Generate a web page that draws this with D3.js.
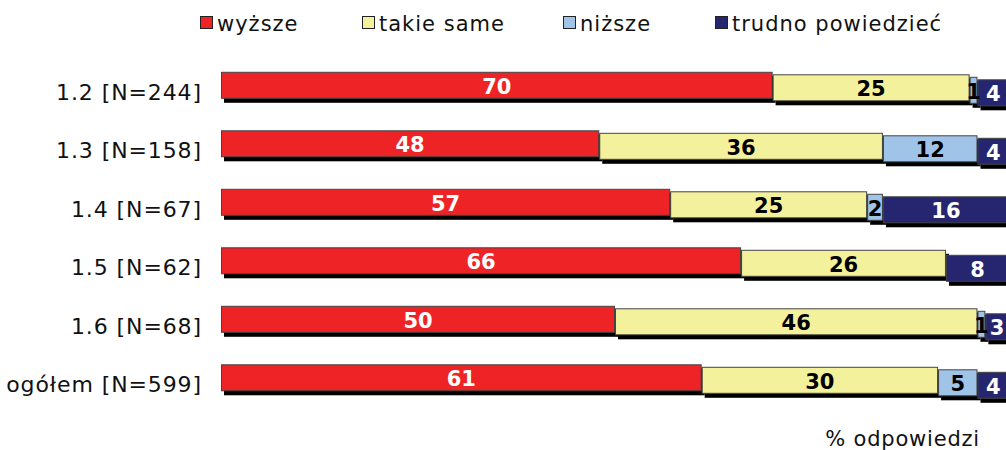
<!DOCTYPE html>
<html><head><meta charset="utf-8">
<script src="https://cdn.jsdelivr.net/npm/d3@7"></script>
<style>body{margin:0;background:#fff}svg{display:block}text{font-family:"DejaVu Sans",Verdana,sans-serif}</style>
</head><body>
<svg id="c" width="1006" height="450"></svg>
<script>
const categories = ["1.2 [N=244]","1.3 [N=158]","1.4 [N=67]","1.5 [N=62]","1.6 [N=68]","ogółem [N=599]"];
const seriesNames = ["wyższe","takie same","niższe","trudno powiedzieć"];
const wyzsze = [70,48,57,66,50,61];
const takieSame = [25,36,25,26,46,30];
const nizsze = [1,12,2,0,1,5];
const trudno = [4,4,16,8,3,4];
const colors = ["#ee2326","#f4f19c","#9fc4e8","#262670"];
const labelColors = ["#fff","#000","#000","#fff"];

const series = [wyzsze, takieSame, nizsze, trudno];
const rows = categories.map((c,i)=>{const o={cat:c}; seriesNames.forEach((s,j)=>o[s]=series[j][i]); return o;});
const stack = d3.stack().keys(seriesNames)(rows);

const svg = d3.select("#c");
const x = d3.scaleLinear().domain([0,100]).range([221,1009]);
const y = d3.scaleBand().domain(categories).range([56,407]).paddingInner(0.54).paddingOuter(0.27);
const bh = 27, step = 2.5;

// category labels
svg.append("g").selectAll("text").data(categories).join("text")
  .attr("x",202).attr("y",d=>y(d)+bh/2+7).attr("dy","0.35em").attr("text-anchor","end")
  .attr("font-size",22).attr("letter-spacing",0.9).attr("fill","#111").text(d=>d);

const g = svg.append("g");
rows.forEach((r,i)=>{
  stack.forEach((s,j)=>{
    const d = s[i]; const w = x(d[1])-x(d[0]);
    if (w<=0) return;
    const yy = y(r.cat)+j*step;
    g.append("rect").attr("x",x(d[0])+3).attr("y",yy+4).attr("width",w).attr("height",bh).attr("fill","#000");
    g.append("rect").attr("x",x(d[0])+0.5).attr("y",yy+0.5).attr("width",w-1).attr("height",bh-1)
      .attr("fill",colors[j]).attr("stroke","#444").attr("stroke-width",1);
  });
});
rows.forEach((r,i)=>{
  stack.forEach((s,j)=>{
    const d = s[i]; const v = d[1]-d[0];
    if (v<=0) return;
    const yy = y(r.cat)+j*step;
    g.append("text").attr("x",(x(d[0])+x(d[1]))/2).attr("y",yy+bh/2+1).attr("dy","0.35em")
      .attr("text-anchor","middle").attr("font-size",21).attr("font-weight","bold")
      .attr("fill",labelColors[j]).text(v);
  });
});

// legend
const legX = [200,362,563,715];
const lg = svg.append("g");
seriesNames.forEach((s,j)=>{
  lg.append("rect").attr("x",legX[j]+0.5).attr("y",16.5).attr("width",12).attr("height",12)
    .attr("fill",colors[j]).attr("stroke","#222");
  lg.append("text").attr("x",legX[j]+17).attr("y",23.5).attr("dy","0.35em").attr("font-size",21)
    .attr("letter-spacing",1).attr("fill","#111").text(s);
});

svg.append("text").attr("x",980).attr("y",446).attr("text-anchor","end").attr("font-size",21)
  .attr("letter-spacing",0.8).attr("fill","#111").text("% odpowiedzi");
</script>
</body></html>
